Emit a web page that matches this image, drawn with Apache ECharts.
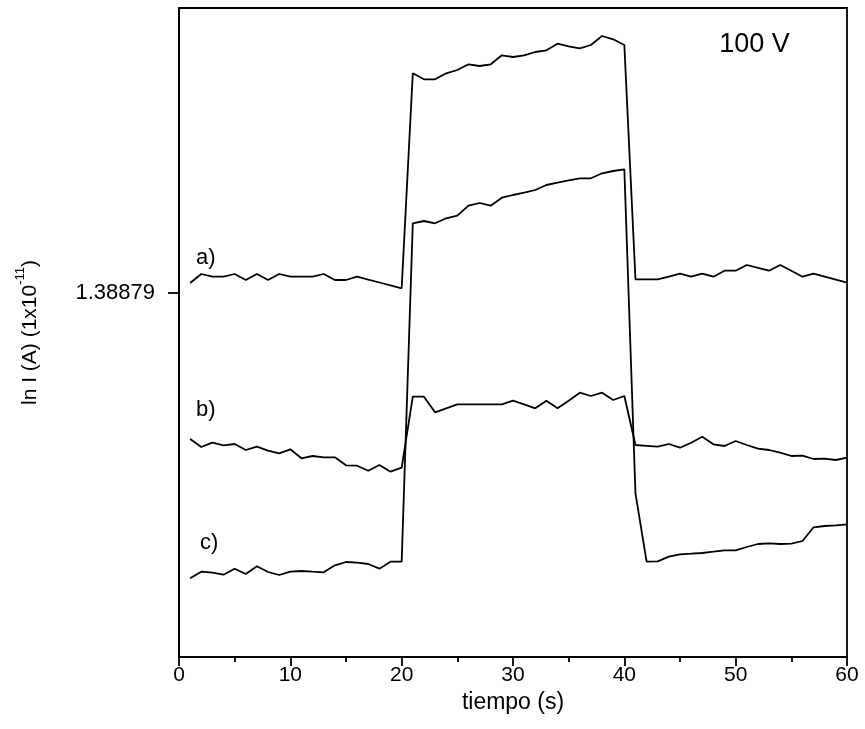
<!DOCTYPE html>
<html>
<head>
<meta charset="utf-8">
<script src="https://cdn.jsdelivr.net/npm/echarts@6/dist/echarts.min.js"></script>
<style>html,body{margin:0;padding:0;background:#fff}#c{width:865px;height:729px}</style>
</head>
<body>
<div id="c"></div>
<script>
// time (s)
var times = [1,2,3,4,5,6,7,8,9,10,11,12,13,14,15,16,17,18,19,20,21,22,23,24,25,26,27,28,29,30,31,32,33,34,35,36,37,38,39,40,41,42,43,44,45,46,47,48,49,50,51,52,53,54,55,56,57,58,59,60];
// ln I, arbitrary offset units (curve a)
var seriesA = [374,383,380.3,380.3,383,377,383,377,383,380.3,380.3,380.3,383,377,377,380.3,377.4,374.5,371.6,368.7,
  583.7,577.7,577.7,583.7,587,592.7,591,592.7,601.7,600,601.7,605,606.7,613.3,610.7,608.7,612,621,617.7,612,
  377.7,377.7,377.7,380.3,383.3,380.3,383.3,380.3,386.3,386.3,392,389.2,386.3,392,386.2,380.3,383.3,380.3,377.3,374.3];
// curve b
var seriesB = [218,210,214.3,211.7,213,207,210.3,206.3,203.7,207.7,198.7,201,199.7,199.7,191.7,191.3,186.3,192,185.3,189.3,
  260.3,260.3,244.7,248.7,252.7,252.7,252.7,252.7,252.7,256.3,252.7,248.7,256.3,248.7,256.3,264.3,261,264.3,257,261,
  212,211.2,210.3,213,209.3,214.3,220.3,212.7,211,216,212,208.3,207,204.3,201,201.3,198,198.3,197,199.3];
// curve c
var seriesC = [78.7,85.3,84.3,82.3,88.3,83,90.7,85,82,85.3,86,85.3,84.7,91.7,95,94.3,93,88.3,95.3,95.3,
  433.7,436,433.7,438.7,441.3,451.3,454,451.3,459.3,462,464.3,467,472,474.3,476.7,478.7,478.7,483.7,486,487.7,
  163.7,95.3,95.7,100.3,102.7,103.3,104,105.3,106.7,106.7,110,113,113.7,113,113.3,116,129.7,131,131.7,132.7];
// y axis: single labelled tick
var yTickValues = [364];
var yTickLabels = ['1.38879'];
var yMin = 0, yMax = 649;
// x axis
var xMin = 0, xMax = 60, xInterval = 10;
// annotations
var noteTexts = ['a)', 'b)', 'c)', '100 V'];
var noteX = [2.4, 2.4, 2.7, 51.7];
var noteY = [399, 247, 114, 612];
var noteSizes = [22, 22, 22, 27];

var FONT = '"Liberation Sans", Arial, sans-serif';
function pairs(ys){ return times.map(function(t,i){ return [t, ys[i]]; }); }
function lineSeries(name, ys){
  return {name:name, type:'line', data:pairs(ys), showSymbol:false, symbol:'none',
    lineStyle:{color:'#000', width:1.8}, animation:false, z:3};
}
var chart = echarts.init(document.getElementById('c'), null, {renderer:'canvas'});
chart.setOption({
  backgroundColor:'#fff',
  animation:false,
  grid:{left:179, right:18, top:8, bottom:72, show:true, borderColor:'#000', borderWidth:1.8, backgroundColor:'transparent'},
  xAxis:{type:'value', min:xMin, max:xMax, interval:xInterval,
    name:'tiempo (s)', nameLocation:'middle', nameGap:30,
    nameTextStyle:{fontFamily:FONT, fontSize:23, color:'#000'},
    axisLine:{show:true, lineStyle:{color:'#000', width:2}},
    axisTick:{show:true, inside:false, length:9, lineStyle:{color:'#000', width:1.8}},
    minorTick:{show:true, splitNumber:2, length:5, lineStyle:{color:'#000', width:1.8}},
    splitLine:{show:false},
    axisLabel:{fontFamily:FONT, fontSize:21, color:'#000', margin:8}
  },
  yAxis:{type:'value', min:yMin, max:yMax,
    name:'{n|ln I (A) (1x10}{s|-11}{n|)}', nameLocation:'middle', nameGap:138,
    nameTextStyle:{fontFamily:FONT, fontSize:21, color:'#000',
      rich:{n:{fontFamily:FONT, fontSize:21, color:'#000', lineHeight:27, verticalAlign:'bottom'},
            s:{fontFamily:FONT, fontSize:13, color:'#000', lineHeight:27, verticalAlign:'top'}}},
    axisLine:{show:true, lineStyle:{color:'#000', width:2}},
    axisTick:{show:true, length:11, customValues:yTickValues, lineStyle:{color:'#000', width:1.8}},
    splitLine:{show:false},
    axisLabel:{fontFamily:FONT, fontSize:22, color:'#000', margin:24, customValues:yTickValues,
      formatter:function(v){ var i = yTickValues.indexOf(v); return i>=0 ? yTickLabels[i] : ''; }}
  },
  series:[
    lineSeries('a', seriesA),
    lineSeries('b', seriesB),
    lineSeries('c', seriesC),
    {type:'scatter', symbolSize:0, silent:true, animation:false, itemStyle:{opacity:1},
      data:noteTexts.map(function(t,i){ return {value:[noteX[i], noteY[i]], name:t,
        label:{fontSize:noteSizes[i]}}; }),
      label:{show:true, position:'inside', formatter:function(p){ return p.name; },
        fontFamily:FONT, color:'#000', opacity:1}}
  ]
});
</script>
</body>
</html>
